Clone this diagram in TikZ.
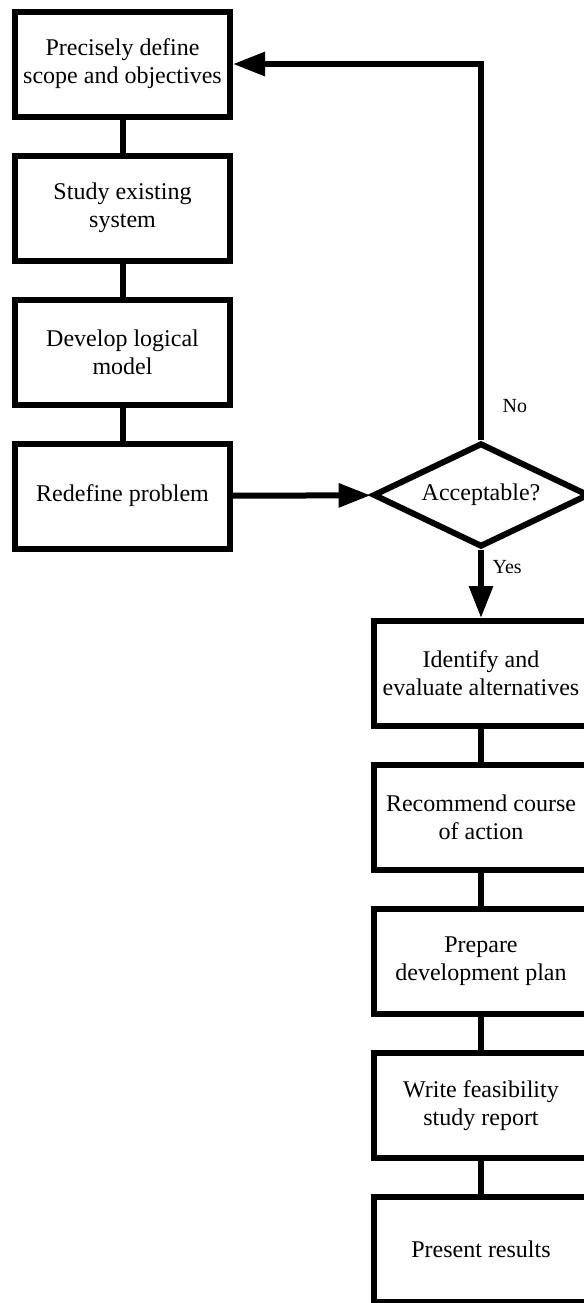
\documentclass[tikz,border=0pt]{standalone}
\usepackage{fontspec}
\setmainfont{Liberation Serif}
\usepackage{tikz}
\usetikzlibrary{shapes.geometric,arrows.meta,positioning}

\begin{document}
\begin{tikzpicture}[
    node distance=16.5pt,
    stepbox/.style={rectangle, draw, line width=3pt, align=center, minimum width=107.5pt, minimum height=52.5pt, inner sep=2pt, font=\fontsize{12}{14}\selectfont},
    decision/.style={diamond, draw, line width=3pt, aspect=3, minimum width=108pt, minimum height=52pt, inner sep=0pt, font=\fontsize{12}{14}\selectfont},
    link/.style={line width=3pt},
    arrow/.style={line width=3pt, -{Triangle[length=16pt,width=11.5pt]}},
    lbl/.style={font=\fontsize{10}{12}\selectfont}
]
\useasboundingbox (0,0) rectangle (292pt,-651.5pt);

% Analysis column
\node[stepbox] (scope) at (61.25pt,-32pt) {Precisely define\\scope and objectives};
\node[stepbox, below=of scope] (study) {Study existing\\system};
\node[stepbox, below=of study] (model) {Develop logical\\model};
\node[stepbox, below=of model] (redef) {Redefine problem};

% Decision
\node[decision] (accept) at (240.5pt,-247.5pt) {Acceptable?};

% Proposal column
\node[stepbox, below=34pt of accept.south, anchor=north] (alter) {Identify and\\evaluate alternatives};
\node[stepbox, below=of alter] (recom) {Recommend course\\of action};
\node[stepbox, below=of recom] (plan) {Prepare\\development plan};
\node[stepbox, below=of plan] (report) {Write feasibility\\study report};
\node[stepbox, below=of report] (present) {Present results};

% Connectors
\draw[link] (scope) -- (study);
\draw[link] (study) -- (model);
\draw[link] (model) -- (redef);
\draw[arrow] (redef) -- (accept);
\draw[arrow] (accept.north) |- (scope.east) node[lbl, pos=0.045, right=6pt] (no) {No};
\draw[arrow] (accept.south) -- (alter.north) node[lbl, pos=0.25, right=1pt] (yes) {Yes};
\draw[link] (alter) -- (recom);
\draw[link] (recom) -- (plan);
\draw[link] (plan) -- (report);
\draw[link] (report) -- (present);

\end{tikzpicture}
\end{document}
